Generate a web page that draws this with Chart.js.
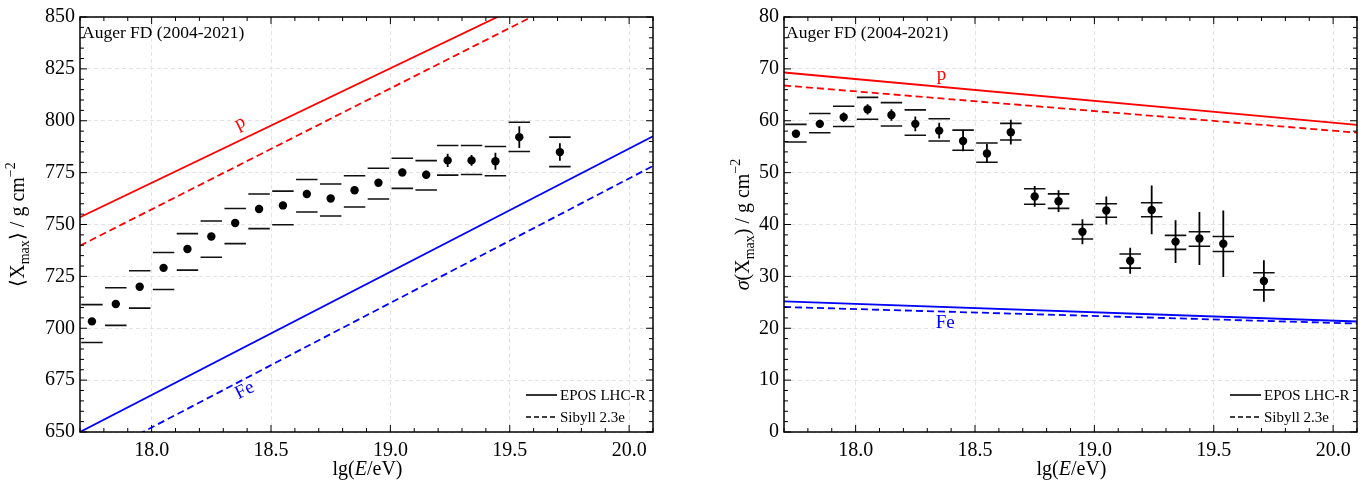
<!DOCTYPE html>
<html><head><meta charset="utf-8">
<script src="https://cdn.jsdelivr.net/npm/chart.js@4.4.0/dist/chart.umd.min.js"></script>
<style>
html,body{margin:0;padding:0;background:#fff;width:1371px;height:489px;overflow:hidden}
#c1{position:absolute;left:0;top:0}
#c2{position:absolute;left:685px;top:0}
</style></head><body>
<canvas id="c1" width="685" height="489"></canvas>
<canvas id="c2" width="686" height="489"></canvas>
<script>
// ---------------- data ----------------
const lgE = [17.75,17.85,17.95,18.05,18.15,18.25,18.35,18.45,18.55,18.65,18.75,18.85,18.95,19.05,19.15,19.24,19.34,19.44,19.54,19.71];
const meanXmax    = [703.3,711.7,720.0,729.1,738.2,744.2,750.7,757.5,759.2,764.7,762.5,766.5,770.1,775.1,774.0,780.9,780.9,780.5,792.1,784.9];
const meanStat    = [0.8,0.8,0.8,0.8,0.9,0.9,1.0,1.0,1.1,1.2,1.3,1.4,1.6,1.8,1.9,3.2,2.6,4.1,5.2,4.2];
const meanSysUp   = [711.4,719.5,727.7,736.5,745.6,751.7,757.7,764.7,766.1,771.7,769.5,773.5,777.1,781.9,780.8,788.1,788.1,787.6,799.3,792.1];
const meanSysLo   = [693.1,701.4,709.7,718.7,728.0,734.2,740.8,748.0,749.9,756.0,754.1,758.4,762.3,767.4,766.6,773.8,774.1,773.5,785.2,777.9];
const sigmaXmax   = [57.5,59.4,60.7,62.2,61.1,59.4,58.1,56.1,53.7,57.8,45.4,44.5,38.6,42.7,33.0,42.8,36.7,37.3,36.3,29.1];
const sigmaStat   = [0.7,0.8,0.9,1.0,1.1,1.4,1.5,2.0,1.8,2.4,2.0,2.1,2.4,2.7,2.5,4.7,4.1,5.1,6.4,4.0];
const sigmaSysUp  = [59.3,61.4,62.8,64.5,63.5,62.1,60.4,58.2,55.7,59.5,46.9,45.9,40.0,44.0,34.3,44.2,37.9,38.6,37.7,30.7];
const sigmaSysLo  = [55.9,57.7,58.9,60.3,59.0,57.2,56.1,54.3,52.0,56.3,43.9,43.1,37.2,41.4,31.6,41.5,35.2,35.8,34.8,27.4];

const modelE        = [17.7, 20.1];
const eposP_mean    = [753.5, 886.0];
const sibP_mean     = [739.8, 879.7];
const eposFe_mean   = [650.0, 792.5];
const sibFe_mean    = [634.2, 778.2];
const eposP_sigma   = [69.3, 59.2];
const sibP_sigma    = [66.8, 57.7];
const eposFe_sigma  = [25.2, 21.3];
const sibFe_sigma   = [24.1, 20.9];

const xTicks     = [18.0, 18.5, 19.0, 19.5, 20.0];
const meanTicks  = [650, 675, 700, 725, 750, 775, 800, 825, 850];
const sigmaTicks = [0, 10, 20, 30, 40, 50, 60, 70, 80];
const legendLabels = ['EPOS LHC-R', 'Sibyll 2.3e'];
const datasetLabel = 'Auger FD (2004-2021)';

// ---------------- helpers ----------------
const SERIF = '"Liberation Serif", "Times New Roman", serif';
Chart.defaults.font.family = SERIF;
const RED = '#ff0000', BLUE = '#0000ff';
const HW = 0.045;

function hSegs(xs, ys) {
  const d = [];
  xs.forEach((x, i) => { d.push({x: x - HW, y: ys[i]}, {x: x + HW, y: ys[i]}, {x: x, y: null}); });
  return d;
}
function vSegs(xs, ys, es) {
  const d = [];
  xs.forEach((x, i) => { d.push({x: x, y: ys[i] - es[i]}, {x: x, y: ys[i] + es[i]}, {x: x, y: null}); });
  return d;
}
function pts(xs, ys) { return xs.map((x, i) => ({x: x, y: ys[i]})); }

function modelDs(ys, color, dashed) {
  return {data: pts(modelE, ys), showLine: true, borderColor: color, borderWidth: 1.8,
          borderDash: dashed ? [7, 4] : [], pointRadius: 0, fill: false, order: 5};
}
function buildDatasets(vals, stat, up, lo, models) {
  return [
    modelDs(models[0], RED, false), modelDs(models[1], RED, true),
    modelDs(models[2], BLUE, false), modelDs(models[3], BLUE, true),
    {data: hSegs(lgE, up), showLine: true, spanGaps: false, borderColor: '#111', borderWidth: 1.6, pointRadius: 0, order: 3},
    {data: hSegs(lgE, lo), showLine: true, spanGaps: false, borderColor: '#111', borderWidth: 1.6, pointRadius: 0, order: 3},
    {data: vSegs(lgE, vals, stat), showLine: true, spanGaps: false, borderColor: '#000', borderWidth: 1.8, pointRadius: 0, order: 2},
    {data: pts(lgE, vals), showLine: false, pointRadius: 4.2, pointBackgroundColor: '#000', pointBorderColor: '#000', borderWidth: 0, order: 1}
  ];
}

function drawRich(ctx, parts, cx, cy, rot) {
  ctx.save();
  ctx.translate(cx, cy);
  ctx.rotate(rot || 0);
  ctx.textAlign = 'left';
  ctx.textBaseline = 'alphabetic';
  let w = 0;
  parts.forEach(p => { ctx.font = p.f; p.w = ctx.measureText(p.t).width; w += p.w; });
  let x = -w / 2;
  parts.forEach(p => { ctx.font = p.f; ctx.fillStyle = p.c || '#000'; ctx.fillText(p.t, x, 7 + (p.dy || 0)); x += p.w; });
  ctx.restore();
}

const F = (s, st) => (st ? st + ' ' : '') + s + 'px ' + SERIF;

const framePlugin = {
  id: 'frame',
  afterDraw(chart, args, o) {
    const {ctx, chartArea: a, scales: {x, y}} = chart;
    ctx.save();
    ctx.strokeStyle = '#000';
    ctx.lineWidth = 1.5;
    ctx.strokeRect(a.left, a.top, a.right - a.left, a.bottom - a.top);
    ctx.lineWidth = 1;
    // x ticks
    for (let i = Math.ceil(x.min * 10 - 1e-6); i <= Math.floor(x.max * 10 + 1e-6); i++) {
      const v = i / 10;
      const major = Math.abs(v * 2 - Math.round(v * 2)) < 1e-6;
      const L = major ? 7 : 4;
      const px = x.getPixelForValue(v);
      ctx.beginPath();
      ctx.moveTo(px, a.bottom); ctx.lineTo(px, a.bottom - L);
      ctx.moveTo(px, a.top); ctx.lineTo(px, a.top + L);
      ctx.stroke();
    }
    // y ticks
    const ms = o.minor, Ms = o.major;
    for (let v = y.min; v <= y.max + 1e-6; v += ms) {
      const major = Math.abs((v - y.min) / Ms - Math.round((v - y.min) / Ms)) < 1e-6;
      const L = major ? 7 : 4;
      const py = y.getPixelForValue(v);
      ctx.beginPath();
      ctx.moveTo(a.left, py); ctx.lineTo(a.left + L, py);
      ctx.moveTo(a.right, py); ctx.lineTo(a.right - L, py);
      ctx.stroke();
    }
    // dataset label
    ctx.fillStyle = '#000';
    ctx.font = F(17.5);
    ctx.textAlign = 'left'; ctx.textBaseline = 'middle';
    ctx.fillText(datasetLabel, a.left + 2, a.top + 16);
    // legend
    const lx = a.right - 127, ly1 = a.bottom - 37, ly2 = a.bottom - 15;
    ctx.lineWidth = 1.6;
    ctx.beginPath(); ctx.moveTo(lx, ly1); ctx.lineTo(lx + 31, ly1); ctx.stroke();
    ctx.setLineDash([5, 3]);
    ctx.beginPath(); ctx.moveTo(lx, ly2); ctx.lineTo(lx + 31, ly2); ctx.stroke();
    ctx.setLineDash([]);
    ctx.font = F(15);
    ctx.fillText(legendLabels[0], lx + 34, ly1 + 1);
    ctx.fillText(legendLabels[1], lx + 34, ly2 + 1);
    // model labels
    o.tags.forEach(t => {
      ctx.save();
      ctx.translate(x.getPixelForValue(t.x), y.getPixelForValue(t.y));
      ctx.rotate(t.rot);
      ctx.fillStyle = t.c; ctx.font = F(19);
      ctx.textAlign = 'center'; ctx.textBaseline = 'middle';
      ctx.fillText(t.t, 0, 0);
      ctx.restore();
    });
    // axis titles
    const cx = (a.left + a.right) / 2;
    drawRich(ctx, [{t: 'lg(', f: F(20)}, {t: 'E', f: F(20, 'italic')}, {t: '/eV)', f: F(20)}], cx + 1, 468, 0);
    drawRich(ctx, o.ytitle, o.ytx, (a.top + a.bottom) / 2, -Math.PI / 2);
    ctx.restore();
  }
};

function makeOpts(padR, yW, ymin, ymax, yticks, plug) {
  const tickFont = {family: SERIF, size: 20};
  return {
    responsive: false, animation: false, events: [],
    layout: {padding: {left: 0, right: padR, top: 13, bottom: 0}},
    plugins: {legend: {display: false}, tooltip: {enabled: false}, frame: plug},
    scales: {
      x: {type: 'linear', min: 17.7, max: 20.1,
          afterBuildTicks: s => { s.ticks = xTicks.map(v => ({value: v})); },
          afterFit: s => { s.height = 57; },
          ticks: {font: tickFont, color: '#000', padding: 7, maxRotation: 0, autoSkip: false, callback: v => Number(v).toFixed(1)},
          grid: {color: '#e3e3e3', lineWidth: 1, drawTicks: false},
          border: {display: false, dash: [4, 3]}},
      y: {type: 'linear', min: ymin, max: ymax,
          afterBuildTicks: s => { s.ticks = yticks.map(v => ({value: v})); },
          afterFit: s => { s.width = yW; },
          ticks: {font: tickFont, color: '#000', padding: 5, autoSkip: false},
          grid: {color: '#e3e3e3', lineWidth: 1, drawTicks: false},
          border: {display: false, dash: [4, 3]}}
    }
  };
}

const sub = 14, sup = 14;
new Chart(document.getElementById('c1'), {
  type: 'scatter',
  data: {datasets: buildDatasets(meanXmax, meanStat, meanSysUp, meanSysLo, [eposP_mean, sibP_mean, eposFe_mean, sibFe_mean])},
  options: makeOpts(32, 80, 650, 850, meanTicks, {
    minor: 5, major: 25, ytx: 17,
    ytitle: [{t: '\u27E8X', f: F(20)}, {t: 'max', f: F(sub), dy: 5}, {t: '\u27E9 / g cm', f: F(20)}, {t: '\u22122', f: F(sup), dy: -9}],
    tags: [{t: 'p', x: 18.37, y: 799, rot: -0.46, c: RED}, {t: 'Fe', x: 18.39, y: 670, rot: -0.47, c: BLUE}]
  }),
  plugins: [framePlugin]
});

new Chart(document.getElementById('c2'), {
  type: 'scatter',
  data: {datasets: buildDatasets(sigmaXmax, sigmaStat, sigmaSysUp, sigmaSysLo, [eposP_sigma, sibP_sigma, eposFe_sigma, sibFe_sigma])},
  options: makeOpts(14, 99, 0, 80, sigmaTicks, {
    minor: 2, major: 10, ytx: 57,
    ytitle: [{t: '\u03C3', f: F(20, 'italic')}, {t: '(X', f: F(20)}, {t: 'max', f: F(sub), dy: 5}, {t: ') / g cm', f: F(20)}, {t: '\u22122', f: F(sup), dy: -9}],
    tags: [{t: 'p', x: 18.36, y: 68.9, rot: 0, c: RED}, {t: 'Fe', x: 18.375, y: 21.0, rot: 0, c: BLUE}]
  }),
  plugins: [framePlugin]
});
</script>
</body></html>
